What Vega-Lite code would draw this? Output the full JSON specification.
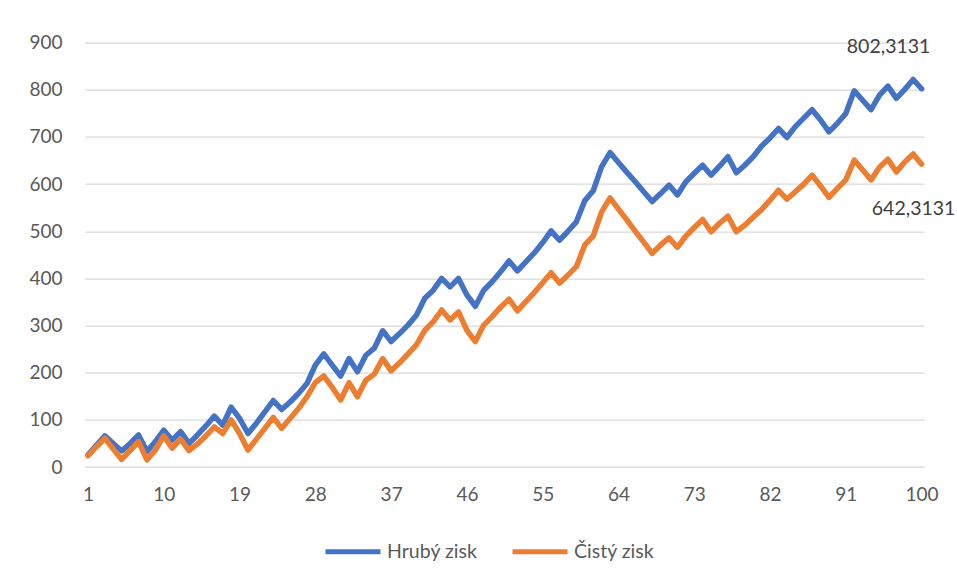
{
  "$schema": "https://vega.github.io/schema/vega-lite/v6.json",
  "width": 839,
  "height": 424.3,
  "autosize": {"type": "none"},
  "padding": {"left": 85, "top": 42.7, "right": 33, "bottom": 116},
  "background": "white",
  "config": {
    "font": "Lato",
    "view": {"stroke": null},
    "axis": {"labelFont": "Lato", "labelFontSize": 19, "labelColor": "#595959"},
    "legend": {"labelFont": "Lato", "labelFontSize": 19.5, "labelColor": "#595959"}
  },
  "datasets": {
    "series": [
      {"i":1,"Hrubý zisk":26,"Čistý zisk":24},
      {"i":2,"Hrubý zisk":46,"Čistý zisk":43},
      {"i":3,"Hrubý zisk":66,"Čistý zisk":61},
      {"i":4,"Hrubý zisk":50,"Čistý zisk":38},
      {"i":5,"Hrubý zisk":34,"Čistý zisk":16},
      {"i":6,"Hrubý zisk":50,"Čistý zisk":35},
      {"i":7,"Hrubý zisk":68,"Čistý zisk":54},
      {"i":8,"Hrubý zisk":33,"Čistý zisk":15},
      {"i":9,"Hrubý zisk":54,"Čistý zisk":36},
      {"i":10,"Hrubý zisk":78,"Čistý zisk":66},
      {"i":11,"Hrubý zisk":57,"Čistý zisk":40},
      {"i":12,"Hrubý zisk":75,"Čistý zisk":59},
      {"i":13,"Hrubý zisk":50,"Čistý zisk":35},
      {"i":14,"Hrubý zisk":68,"Čistý zisk":49},
      {"i":15,"Hrubý zisk":87,"Čistý zisk":66},
      {"i":16,"Hrubý zisk":108,"Čistý zisk":85},
      {"i":17,"Hrubý zisk":89,"Čistý zisk":71},
      {"i":18,"Hrubý zisk":127,"Čistý zisk":100},
      {"i":19,"Hrubý zisk":103,"Čistý zisk":71},
      {"i":20,"Hrubý zisk":71,"Čistý zisk":36},
      {"i":21,"Hrubý zisk":93,"Čistý zisk":59},
      {"i":22,"Hrubý zisk":117,"Čistý zisk":82},
      {"i":23,"Hrubý zisk":141,"Čistý zisk":105},
      {"i":24,"Hrubý zisk":122,"Čistý zisk":82},
      {"i":25,"Hrubý zisk":138,"Čistý zisk":103},
      {"i":26,"Hrubý zisk":156,"Čistý zisk":124},
      {"i":27,"Hrubý zisk":177,"Čistý zisk":149},
      {"i":28,"Hrubý zisk":216,"Čistý zisk":179},
      {"i":29,"Hrubý zisk":240,"Čistý zisk":193},
      {"i":30,"Hrubý zisk":216,"Čistý zisk":169},
      {"i":31,"Hrubý zisk":193,"Čistý zisk":142},
      {"i":32,"Hrubý zisk":230,"Čistý zisk":179},
      {"i":33,"Hrubý zisk":202,"Čistý zisk":149},
      {"i":34,"Hrubý zisk":237,"Čistý zisk":184},
      {"i":35,"Hrubý zisk":252,"Čistý zisk":197},
      {"i":36,"Hrubý zisk":289,"Čistý zisk":230},
      {"i":37,"Hrubý zisk":266,"Čistý zisk":204},
      {"i":38,"Hrubý zisk":283,"Čistý zisk":221},
      {"i":39,"Hrubý zisk":301,"Čistý zisk":240},
      {"i":40,"Hrubý zisk":322,"Čistý zisk":259},
      {"i":41,"Hrubý zisk":358,"Čistý zisk":290},
      {"i":42,"Hrubý zisk":375,"Čistý zisk":308},
      {"i":43,"Hrubý zisk":400,"Čistý zisk":333},
      {"i":44,"Hrubý zisk":382,"Čistý zisk":312},
      {"i":45,"Hrubý zisk":400,"Čistý zisk":329},
      {"i":46,"Hrubý zisk":365,"Čistý zisk":290},
      {"i":47,"Hrubý zisk":341,"Čistý zisk":266},
      {"i":48,"Hrubý zisk":375,"Čistý zisk":301},
      {"i":49,"Hrubý zisk":393,"Čistý zisk":319},
      {"i":50,"Hrubý zisk":414,"Čistý zisk":339},
      {"i":51,"Hrubý zisk":437,"Čistý zisk":356},
      {"i":52,"Hrubý zisk":416,"Čistý zisk":331},
      {"i":53,"Hrubý zisk":435,"Čistý zisk":351},
      {"i":54,"Hrubý zisk":454,"Čistý zisk":370},
      {"i":55,"Hrubý zisk":476,"Čistý zisk":391},
      {"i":56,"Hrubý zisk":501,"Čistý zisk":412},
      {"i":57,"Hrubý zisk":481,"Čistý zisk":390},
      {"i":58,"Hrubý zisk":500,"Čistý zisk":407},
      {"i":59,"Hrubý zisk":520,"Čistý zisk":425},
      {"i":60,"Hrubý zisk":565,"Čistý zisk":471},
      {"i":61,"Hrubý zisk":586,"Čistý zisk":490},
      {"i":62,"Hrubý zisk":637,"Čistý zisk":541},
      {"i":63,"Hrubý zisk":667,"Čistý zisk":571},
      {"i":64,"Hrubý zisk":646,"Čistý zisk":547},
      {"i":65,"Hrubý zisk":625,"Čistý zisk":524},
      {"i":66,"Hrubý zisk":605,"Čistý zisk":500},
      {"i":67,"Hrubý zisk":584,"Čistý zisk":477},
      {"i":68,"Hrubý zisk":563,"Čistý zisk":453},
      {"i":69,"Hrubý zisk":580,"Čistý zisk":471},
      {"i":70,"Hrubý zisk":598,"Čistý zisk":486},
      {"i":71,"Hrubý zisk":577,"Čistý zisk":466},
      {"i":72,"Hrubý zisk":605,"Čistý zisk":490},
      {"i":73,"Hrubý zisk":623,"Čistý zisk":508},
      {"i":74,"Hrubý zisk":640,"Čistý zisk":525},
      {"i":75,"Hrubý zisk":619,"Čistý zisk":499},
      {"i":76,"Hrubý zisk":638,"Čistý zisk":517},
      {"i":77,"Hrubý zisk":658,"Čistý zisk":532},
      {"i":78,"Hrubý zisk":624,"Čistý zisk":499},
      {"i":79,"Hrubý zisk":640,"Čistý zisk":513},
      {"i":80,"Hrubý zisk":658,"Čistý zisk":530},
      {"i":81,"Hrubý zisk":681,"Čistý zisk":546},
      {"i":82,"Hrubý zisk":698,"Čistý zisk":566},
      {"i":83,"Hrubý zisk":718,"Čistý zisk":587},
      {"i":84,"Hrubý zisk":699,"Čistý zisk":568},
      {"i":85,"Hrubý zisk":722,"Čistý zisk":584},
      {"i":86,"Hrubý zisk":740,"Čistý zisk":600},
      {"i":87,"Hrubý zisk":758,"Čistý zisk":619},
      {"i":88,"Hrubý zisk":736,"Čistý zisk":596},
      {"i":89,"Hrubý zisk":711,"Čistý zisk":572},
      {"i":90,"Hrubý zisk":729,"Čistý zisk":591},
      {"i":91,"Hrubý zisk":750,"Čistý zisk":609},
      {"i":92,"Hrubý zisk":798,"Čistý zisk":651},
      {"i":93,"Hrubý zisk":778,"Čistý zisk":630},
      {"i":94,"Hrubý zisk":758,"Čistý zisk":609},
      {"i":95,"Hrubý zisk":789,"Čistý zisk":636},
      {"i":96,"Hrubý zisk":808,"Čistý zisk":653},
      {"i":97,"Hrubý zisk":782,"Čistý zisk":626},
      {"i":98,"Hrubý zisk":801,"Čistý zisk":647},
      {"i":99,"Hrubý zisk":822,"Čistý zisk":664},
      {"i":100,"Hrubý zisk":802.3131,"Čistý zisk":642.3131}
    ],
    "labels": [
      {"i":100,"series":"Hrubý zisk","value":802.3131,"label":"802,3131"},
      {"i":100,"series":"Čistý zisk","value":642.3131,"label":"642,3131"}
    ]
  },
  "layer": [
    {
      "data": {"name": "series"},
      "transform": [{"fold": ["Hrubý zisk", "Čistý zisk"], "as": ["series", "value"]}],
      "mark": {"type": "line", "strokeWidth": 5.5, "strokeJoin": "round", "strokeCap": "round"},
      "encoding": {
        "x": {
          "field": "i", "type": "quantitative",
          "scale": {"domain": [0.644, 100.285], "nice": false, "zero": false},
          "axis": {"title": null, "values": [1,10,19,28,37,46,55,64,73,82,91,100], "grid": false, "ticks": false, "domain": false, "labelPadding": 18, "labelFlush": false}
        },
        "y": {
          "field": "value", "type": "quantitative",
          "scale": {"domain": [0, 900], "nice": false},
          "axis": {"title": null, "values": [0,100,200,300,400,500,600,700,800,900], "ticks": false, "domain": false, "gridColor": "#D9D9D9", "gridWidth": 1.3, "labelPadding": 23}
        },
        "color": {
          "field": "series", "type": "nominal",
          "scale": {"domain": ["Hrubý zisk", "Čistý zisk"], "range": ["#4472C4", "#ED7D31"]},
          "legend": {"title": null, "orient": "none", "direction": "horizontal", "legendX": 238, "legendY": 479, "symbolType": "stroke", "symbolSize": 3025, "symbolStrokeWidth": 5, "columnPadding": 24, "labelOffset": 4}
        },
        "sort": {"field": "i"}
      }
    },
    {
      "data": {"name": "labels"},
      "transform": [{"filter": "datum.series === 'Hrubý zisk'"}],
      "mark": {"type": "text", "fontSize": 19.5, "color": "#404040", "dx": -33, "dy": -42, "font": "Lato"},
      "encoding": {
        "x": {"field": "i", "type": "quantitative"},
        "y": {"field": "value", "type": "quantitative"},
        "text": {"field": "label"}
      }
    },
    {
      "data": {"name": "labels"},
      "transform": [{"filter": "datum.series === 'Čistý zisk'"}],
      "mark": {"type": "text", "fontSize": 19.5, "color": "#404040", "dx": -8, "dy": 45, "font": "Lato"},
      "encoding": {
        "x": {"field": "i", "type": "quantitative"},
        "y": {"field": "value", "type": "quantitative"},
        "text": {"field": "label"}
      }
    }
  ]
}
